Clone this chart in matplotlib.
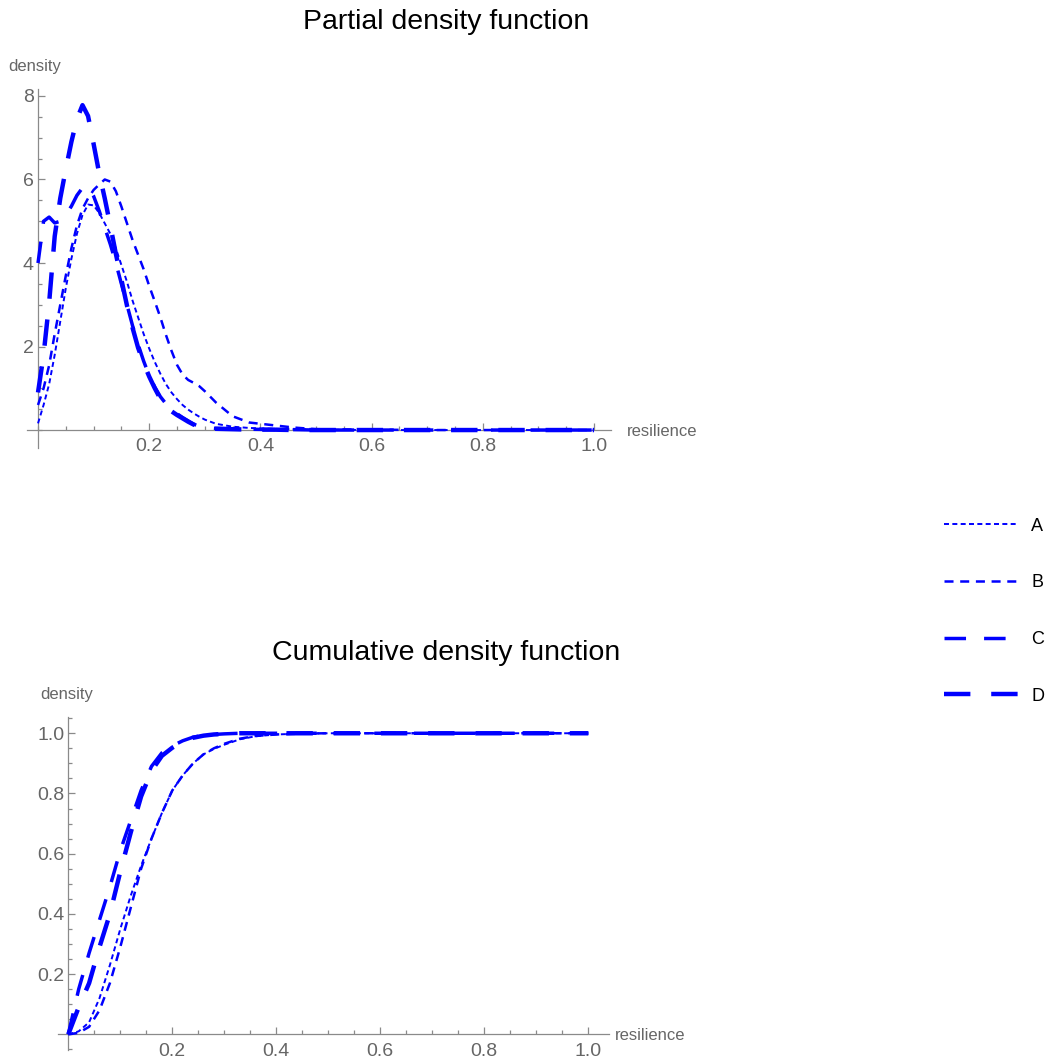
"""
plot.py

Redraws the two resilience plots (partial density and cumulative density)
for the four cases A-D, with a shared legend on the right, into out.png.
"""

import matplotlib
matplotlib.use("Agg")
import matplotlib.pyplot as plt
from matplotlib.lines import Line2D
from matplotlib.ticker import FixedLocator, MultipleLocator, FormatStrFormatter

# ---------------------------------------------------------------------------
# Data
# ---------------------------------------------------------------------------

PDF_X = [0.00, 0.01, 0.02, 0.03, 0.04, 0.05, 0.06, 0.07, 0.08, 0.09,
         0.10, 0.11, 0.12, 0.13, 0.14, 0.15, 0.16, 0.17, 0.18, 0.19,
         0.20, 0.21, 0.22, 0.23, 0.24, 0.25, 0.26, 0.27, 0.28, 0.29,
         0.30, 0.32, 0.35, 0.38, 0.42, 0.46, 0.50, 0.60, 0.70, 0.80,
         0.90, 1.00]

PDF_A = [0.16, 0.60, 1.10, 1.80, 2.60, 3.40, 4.10, 4.70, 5.15, 5.40,
         5.38, 5.20, 4.95, 4.70, 4.35, 3.95, 3.55, 3.10, 2.70, 2.30,
         1.95, 1.63, 1.35, 1.10, 0.90, 0.74, 0.60, 0.49, 0.40, 0.32,
         0.25, 0.15, 0.08, 0.05, 0.03, 0.02, 0.01, 0.00, 0.00, 0.00,
         0.00, 0.00]

PDF_B = [0.60, 1.00, 1.55, 2.30, 3.00, 3.70, 4.35, 4.90, 5.30, 5.55,
         5.75, 5.88, 6.00, 5.95, 5.72, 5.35, 4.95, 4.55, 4.20, 3.85,
         3.45, 3.08, 2.70, 2.28, 1.90, 1.56, 1.33, 1.20, 1.13, 1.05,
         0.93, 0.66, 0.33, 0.18, 0.12, 0.06, 0.02, 0.01, 0.00, 0.00,
         0.00, 0.00]

PDF_C = [4.00, 5.00, 5.10, 4.96, 5.00, 5.15, 5.36, 5.62, 5.80, 5.82,
         5.60, 5.25, 4.85, 4.45, 4.00, 3.50, 3.00, 2.50, 2.05, 1.65,
         1.30, 1.03, 0.80, 0.63, 0.50, 0.39, 0.30, 0.22, 0.14, 0.09,
         0.06, 0.04, 0.03, 0.02, 0.01, 0.01, 0.00, 0.00, 0.00, 0.00,
         0.00, 0.00]

PDF_D = [0.90, 1.80, 3.05, 4.64, 5.55, 6.25, 6.90, 7.45, 7.78, 7.52,
         6.85, 6.15, 5.55, 4.90, 4.22, 3.60, 2.98, 2.45, 1.97, 1.60,
         1.28, 1.00, 0.75, 0.58, 0.45, 0.36, 0.28, 0.20, 0.13, 0.08,
         0.05, 0.03, 0.02, 0.01, 0.01, 0.00, 0.00, 0.00, 0.00, 0.00,
         0.00, 0.00]

CDF_X = [0.00, 0.02, 0.04, 0.06, 0.08, 0.10, 0.12, 0.14, 0.16, 0.18,
         0.20, 0.22, 0.24, 0.26, 0.28, 0.30, 0.33, 0.36, 0.40, 0.45,
         0.50, 0.60, 0.70, 0.80, 0.90, 1.00]

CDF_A = [0.000, 0.010, 0.040, 0.120, 0.230, 0.350, 0.460, 0.560, 0.650, 0.735,
         0.810, 0.860, 0.900, 0.930, 0.948, 0.962, 0.980, 0.990, 0.996, 0.999,
         1.000, 1.000, 1.000, 1.000, 1.000, 1.000]

CDF_B = [0.000, 0.005, 0.025, 0.080, 0.170, 0.290, 0.420, 0.550, 0.650, 0.735,
         0.810, 0.860, 0.900, 0.930, 0.950, 0.965, 0.982, 0.991, 0.996, 0.999,
         1.000, 1.000, 1.000, 1.000, 1.000, 1.000]

CDF_C = [0.000, 0.150, 0.270, 0.380, 0.490, 0.610, 0.710, 0.810, 0.890, 0.935,
         0.958, 0.975, 0.987, 0.993, 0.996, 0.998, 1.000, 1.000, 1.000, 1.000,
         1.000, 1.000, 1.000, 1.000, 1.000, 1.000]

CDF_D = [0.000, 0.090, 0.170, 0.290, 0.400, 0.540, 0.670, 0.790, 0.875, 0.925,
         0.952, 0.972, 0.985, 0.992, 0.996, 0.998, 1.000, 1.000, 1.000, 1.000,
         1.000, 1.000, 1.000, 1.000, 1.000, 1.000]

LABELS = ["A", "B", "C", "D"]
PDF_SERIES = [PDF_A, PDF_B, PDF_C, PDF_D]
CDF_SERIES = [CDF_A, CDF_B, CDF_C, CDF_D]

# ---------------------------------------------------------------------------
# Style
# ---------------------------------------------------------------------------

BLUE = "#0000FF"
AXIS_GRAY = "#8a8a8a"
LABEL_GRAY = "#666666"

# line width (pt) and dash pattern (pt on, pt off) per case
LINE_STYLE = {
    "A": (1.4, (3.6, 2.4)),
    "B": (1.8, (6.5, 4.8)),
    "C": (2.5, (15.5, 13.0)),
    "D": (3.2, (19.0, 15.0)),
}

plt.rcParams["lines.scale_dashes"] = False
plt.rcParams["font.family"] = ["Liberation Sans", "DejaVu Sans"]

W, H = 1052, 1062


def style_axes(ax, xlim, ylim, y_major, y_minor, y_fmt):
    ax.set_xlim(*xlim)
    ax.set_ylim(*ylim)
    ax.patch.set_alpha(0)
    for side in ["top", "right"]:
        ax.spines[side].set_visible(False)
    for side in ["left", "bottom"]:
        ax.spines[side].set_position(("data", 0))
        ax.spines[side].set_color(AXIS_GRAY)
        ax.spines[side].set_linewidth(0.9)
        ax.spines[side].set_zorder(1)

    ax.xaxis.set_major_locator(FixedLocator([0.2, 0.4, 0.6, 0.8, 1.0]))
    ax.xaxis.set_minor_locator(MultipleLocator(0.05))
    ax.xaxis.set_major_formatter(FormatStrFormatter("%.1f"))
    ax.yaxis.set_major_locator(FixedLocator(y_major))
    ax.yaxis.set_minor_locator(MultipleLocator(y_minor))
    ax.yaxis.set_major_formatter(FormatStrFormatter(y_fmt))

    ax.tick_params(which="both", direction="in", color=AXIS_GRAY,
                   labelcolor=LABEL_GRAY, labelsize=14, width=0.9)
    ax.tick_params(which="major", length=5)
    ax.tick_params(which="minor", length=2.8)
    ax.tick_params(axis="x", which="major", pad=6)
    ax.tick_params(axis="y", which="major", pad=3)


def draw_curves(ax, x, series):
    for label, y in zip(LABELS, series):
        lw, dashes = LINE_STYLE[label]
        ax.plot(x, y, color=BLUE, lw=lw, dashes=dashes,
                dash_capstyle="butt", zorder=3, clip_on=False)


def main():
    fig = plt.figure(figsize=(W / 100, H / 100), dpi=100)

    # top panel: partial density
    ax1 = fig.add_axes([26.9 / W, 1 - 448 / H, 583.8 / W, 358.7 / H])
    draw_curves(ax1, PDF_X, PDF_SERIES)
    style_axes(ax1, (-0.02, 1.03), (-0.43, 8.16), [2, 4, 6, 8], 0.5, "%d")

    # bottom panel: cumulative density
    ax2 = fig.add_axes([57.9 / W, 1 - 1050 / H, 551.2 / W, 333.3 / H])
    draw_curves(ax2, CDF_X, CDF_SERIES)
    style_axes(ax2, (-0.02, 1.04), (-0.052, 1.055),
               [0.2, 0.4, 0.6, 0.8, 1.0], 0.05, "%.1f")

    fig.text(446 / W, 1 - 22 / H, "Partial density function",
             ha="center", va="center", fontsize=20.5, color="black")
    fig.text(446 / W, 1 - 653 / H, "Cumulative density function",
             ha="center", va="center", fontsize=20.5, color="black")

    fig.text(8 / W, 1 - 67 / H, "density", ha="left", va="center",
             fontsize=12, color=LABEL_GRAY)
    fig.text(627 / W, 1 - 431 / H, "resilience", ha="left", va="center",
             fontsize=12, color=LABEL_GRAY)
    fig.text(40 / W, 1 - 695 / H, "density", ha="left", va="center",
             fontsize=12, color=LABEL_GRAY)
    fig.text(615 / W, 1 - 1035 / H, "resilience", ha="left", va="center",
             fontsize=12, color=LABEL_GRAY)

    handles = []
    for label in LABELS:
        lw, dashes = LINE_STYLE[label]
        handles.append(Line2D([], [], color=BLUE, lw=lw, dashes=dashes,
                              dash_capstyle="butt"))
    fig.legend(handles, LABELS, loc="upper left",
               bbox_to_anchor=(931 / W, 1 - 505 / H), frameon=False,
               fontsize=13, handlelength=4.15, handletextpad=0.7,
               labelspacing=2.2, borderpad=0.2)

    fig.savefig("out.png", dpi=100)
    plt.close(fig)


if __name__ == "__main__":
    main()
